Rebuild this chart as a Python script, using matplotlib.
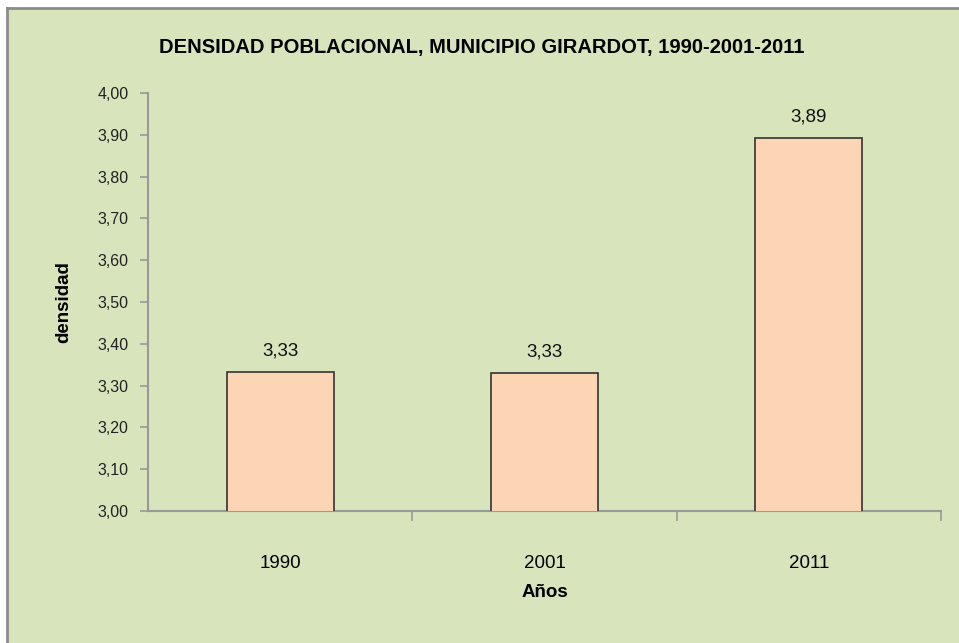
import matplotlib
matplotlib.use("Agg")
import matplotlib.pyplot as plt

categories = ["1990", "2001", "2011"]
values = [3.332, 3.329, 3.893]
labels = ["3,33", "3,33", "3,89"]
yticks = [3.0, 3.1, 3.2, 3.3, 3.4, 3.5, 3.6, 3.7, 3.8, 3.9, 4.0]
ytick_labels = ["3,00", "3,10", "3,20", "3,30", "3,40", "3,50", "3,60", "3,70", "3,80", "3,90", "4,00"]

FONT = ["Liberation Sans Narrow", "Liberation Sans", "DejaVu Sans"]
plt.rcParams['font.family'] = FONT

W, H = 959, 643
fig = plt.figure(figsize=(W/100, H/100), dpi=100)
fig.patch.set_facecolor("white")

bg = "#d8e4bc"
bgax = fig.add_axes([7/W, -0.05, 1.1, (H-8)/H + 0.05], zorder=-5)
bgax.set_facecolor(bg)
bgax.set_xticks([]); bgax.set_yticks([])
for s in bgax.spines.values():
    s.set_color("#8c8c8c"); s.set_linewidth(2)

ax = fig.add_axes([148/W, (H-511)/H, (941-148)/W, (511-93)/H], zorder=1)
ax.patch.set_alpha(0)

x = range(len(categories))
ax.bar(x, values, width=0.405, color="#fcd5b4", edgecolor="#333333", linewidth=1.2, zorder=3)
ax.set_ylim(3.0, 4.0)
ax.set_xlim(-0.5, 2.5)
ax.set_yticks(yticks)
ax.set_yticklabels(ytick_labels, fontsize=11.5, color="#222222")
ax.set_xticks(list(x))
ax.set_xticklabels(categories, fontsize=13.5)
ax.set_xticks([0.5, 1.5, 2.5], minor=True)
ax.tick_params(axis='x', which='major', length=0, pad=32)
ax.tick_params(axis='x', which='minor', length=7, color="#999999", width=1.2)
ax.tick_params(axis='y', length=6, color="#999999", width=1.2, pad=8)

for s in ["top", "right"]:
    ax.spines[s].set_visible(False)
for s in ["left", "bottom"]:
    ax.spines[s].set_color("#999999")
    ax.spines[s].set_linewidth(1.5)

for xi, v, lab in zip(x, values, labels):
    ax.annotate(lab, (xi, v), xytext=(0, 9), textcoords="offset points",
                ha="center", va="bottom", fontsize=13.5, color="#111111")

ax.set_xlabel("Años", fontsize=13.5, fontweight="bold", labelpad=8)
ax.set_ylabel("densidad", fontsize=13.5, fontweight="bold", labelpad=18)

fig.text(482/W, (H-47)/H, "DENSIDAD POBLACIONAL, MUNICIPIO GIRARDOT, 1990-2001-2011",
         ha="center", va="center", fontsize=14.5, fontweight="bold")

fig.savefig("out.png", dpi=100)
